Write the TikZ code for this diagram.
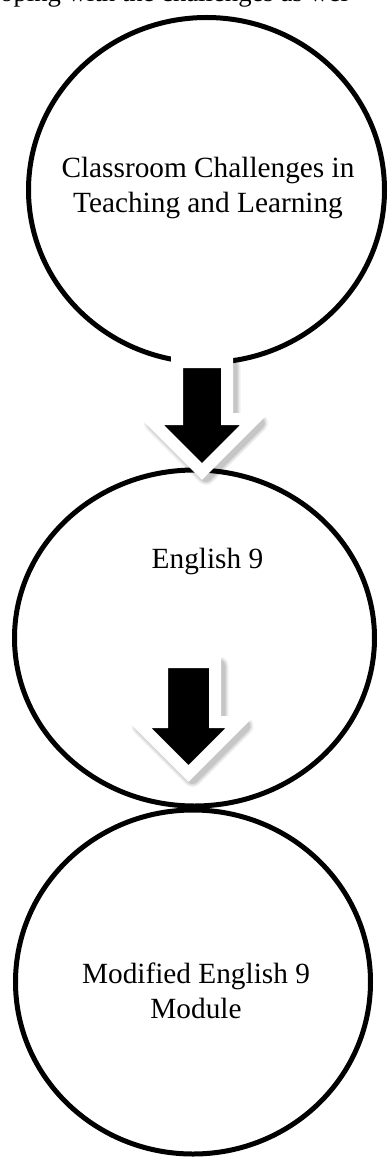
\documentclass[tikz,border=0pt]{standalone}
\usepackage{fontspec}
\setmainfont{Liberation Serif}
\usetikzlibrary{shapes.geometric}
\tikzset{
  ring/.style={ellipse, draw=black, line width=5pt, inner sep=0pt, fill=none},
  txt/.style={inner sep=0pt, align=center, font=\fontsize{29.3}{35}\selectfont},
  blockarrow/.style={draw=white, line width=12pt, fill=black, line join=miter},
  softshade/.style={draw=black, fill=black, line join=round, opacity=#1},
}
% outline of a downward block arrow: centre x, tail y, shoulder y, tip y, half shaft width
\newcommand{\arrowoutline}[5]{({#1-#5},#2) -- ({#1+#5},#2) -- ({#1+#5},#3)
  -- ({#1+#4-#3},#3) -- (#1,#4) -- ({#1-#4+#3},#3) -- ({#1-#5},#3) -- cycle}
% block arrow with a soft shade towards the lower right
\newcommand{\shadedarrow}[5]{%
  \begin{scope}[shift={(4,4)}]
    \draw[softshade=0.06, line width=19pt] \arrowoutline{#1}{#2}{#3}{#4}{#5};
    \draw[softshade=0.08, line width=16pt] \arrowoutline{#1}{#2}{#3}{#4}{#5};
    \draw[softshade=0.10, line width=13pt] \arrowoutline{#1}{#2}{#3}{#4}{#5};
  \end{scope}
  \draw[blockarrow] \arrowoutline{#1}{#2}{#3}{#4}{#5};}
\begin{document}
\begin{tikzpicture}[x=1pt,y=-1pt]
\useasboundingbox (0,0) rectangle (388,1158);
\clip (0,0) rectangle (388,1158);

% running text of the page, cut at the top edge
\node[inner sep=0pt, anchor=base west, font=\fontsize{26.7}{32}\selectfont] (lead) at (0,2) {oping with the challenges as wel};

% the three stages
\node[ring, minimum width=356pt, minimum height=345pt] (c1) at (206.5,190) {};
\node[ring, minimum width=360pt, minimum height=336pt] (c2) at (194.5,638) {};
\node[ring, minimum width=355pt, minimum height=344pt] (c3) at (193,982) {};

% block arrows leading from one stage to the next
\shadedarrow{202}{362}{419}{471.5}{25}
\shadedarrow{188.5}{662}{722}{773.5}{26.5}

% stage titles
\node[txt] (t1) at (208,187.7) {Classroom Challenges in\\Teaching and Learning};
\node[txt, anchor=base] (t2) at (207.5,568) {English 9};
\node[txt] (t3) at (196,990.5) {Modified English 9\\Module};
\end{tikzpicture}
\end{document}
